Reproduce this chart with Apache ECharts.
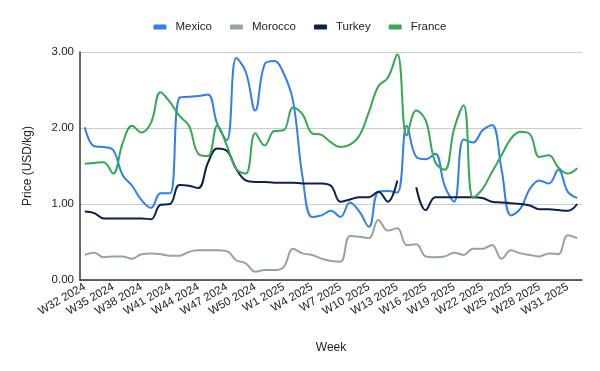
<!DOCTYPE html>
<html>
<head>
<meta charset="utf-8">
<script src="https://cdn.jsdelivr.net/npm/echarts@6/dist/echarts.min.js"></script>
<style>html,body{margin:0;padding:0;background:#fff}#c{width:600px;height:371px}</style>
</head>
<body>
<div id="c"></div>
<script>
var weeks = ["W32 2024","W33 2024","W34 2024","W35 2024","W36 2024","W37 2024","W38 2024","W39 2024","W40 2024","W41 2024","W42 2024","W43 2024","W44 2024","W45 2024","W46 2024","W47 2024","W48 2024","W49 2024","W50 2024","W51 2024","W52 2024",
"W1 2025","W2 2025","W3 2025","W4 2025","W5 2025","W6 2025","W7 2025","W8 2025","W9 2025","W10 2025","W11 2025","W12 2025","W13 2025","W14 2025","W15 2025","W16 2025","W17 2025","W18 2025","W19 2025","W20 2025","W21 2025","W22 2025","W23 2025","W24 2025","W25 2025","W26 2025","W27 2025","W28 2025","W29 2025","W30 2025","W31 2025","W32 2025"];
var mexico = [2.01,1.76,1.75,1.71,1.38,1.24,1.05,0.95,1.14,1.14,2.40,2.41,2.42,2.44,2.05,1.84,2.92,2.74,2.23,2.84,2.88,2.72,2.35,1.35,0.83,0.85,0.91,0.83,1.02,0.90,0.70,1.16,1.17,1.15,2.03,1.62,1.59,1.66,1.24,1.03,1.85,1.81,1.97,2.04,1.46,0.85,0.94,1.20,1.31,1.27,1.45,1.16,1.08];
var morocco = [0.33,0.36,0.30,0.31,0.31,0.28,0.34,0.35,0.34,0.32,0.32,0.37,0.39,0.39,0.39,0.38,0.26,0.22,0.11,0.13,0.13,0.17,0.41,0.35,0.33,0.28,0.25,0.24,0.58,0.57,0.55,0.79,0.65,0.68,0.46,0.47,0.31,0.30,0.31,0.36,0.33,0.41,0.41,0.46,0.28,0.39,0.35,0.33,0.31,0.35,0.34,0.59,0.55];
var turkey = [0.90,0.88,0.81,0.81,0.81,0.81,0.81,0.80,0.99,1.00,1.25,1.24,1.21,1.54,1.73,1.70,1.46,1.31,1.29,1.29,1.28,1.28,1.28,1.27,1.27,1.27,1.24,1.03,1.06,1.09,1.09,1.16,1.03,1.31,null,1.22,0.92,1.09,1.09,1.09,1.09,1.09,1.08,1.03,1.02,1.01,1.00,0.98,0.93,0.93,0.92,0.91,1.00];
var france = [1.53,1.54,1.55,1.40,1.80,2.03,1.94,2.07,2.47,2.34,2.16,2.03,1.66,1.63,2.03,1.77,1.46,1.40,1.93,1.77,1.96,1.97,2.27,2.18,1.93,1.91,1.81,1.75,1.78,1.90,2.21,2.55,2.66,2.97,1.90,2.23,2.10,1.55,1.45,1.99,2.30,1.08,1.20,1.42,1.64,1.86,1.95,1.92,1.62,1.64,1.48,1.40,1.47];
var seriesNames = ["Mexico","Morocco","Turkey","France"];
var seriesColors = ["#2f7fec","#97a49a","#0c1f4e","#34a853"];

var chart = echarts.init(document.getElementById('c'));
var dataSets = [mexico, morocco, turkey, france];
var font = 'Liberation Sans, Arial, sans-serif';
chart.setOption({
  animation: false,
  color: seriesColors,
  textStyle: {fontFamily: font},
  legend: {
    top: 16, left: 'center',
    icon: 'roundRect', itemWidth: 13, itemHeight: 5, itemGap: 18,
    textStyle: {fontSize: 11.5, color: '#222', fontFamily: font, padding: [0,0,0,4]},
    data: seriesNames
  },
  grid: {left: 80, right: 18, top: 52, bottom: 91, containLabel: false, outerBoundsMode: 'none'},
  xAxis: {
    type: 'category', data: weeks, boundaryGap: true,
    axisTick: {show: false},
    axisLine: {lineStyle: {color: '#333', width: 1.5}},
    axisLabel: {rotate: 30, interval: 2, fontSize: 11.5, color: '#222', fontFamily: font, margin: 6},
    name: 'Week', nameLocation: 'middle', nameGap: 62,
    nameTextStyle: {fontSize: 12, color: '#222', fontFamily: font}
  },
  yAxis: {
    type: 'value', min: 0, max: 3, interval: 1,
    axisLine: {show: true, lineStyle: {color: '#333', width: 1.5}},
    axisTick: {show: false},
    splitLine: {lineStyle: {color: '#ccc'}},
    axisLabel: {formatter: function(v){return v.toFixed(2);}, fontSize: 11.5, color: '#222', fontFamily: font, margin: 6},
    name: 'Price (USD/kg)', nameLocation: 'middle', nameGap: 46,
    nameTextStyle: {fontSize: 12, color: '#222', fontFamily: font}
  },
  series: seriesNames.map(function(n, k){
    return {name: n, type: 'line', data: dataSets[k], smooth: 0.4, showSymbol: false,
      connectNulls: false, lineStyle: {width: 2}};
  })
});
</script>
</body>
</html>
